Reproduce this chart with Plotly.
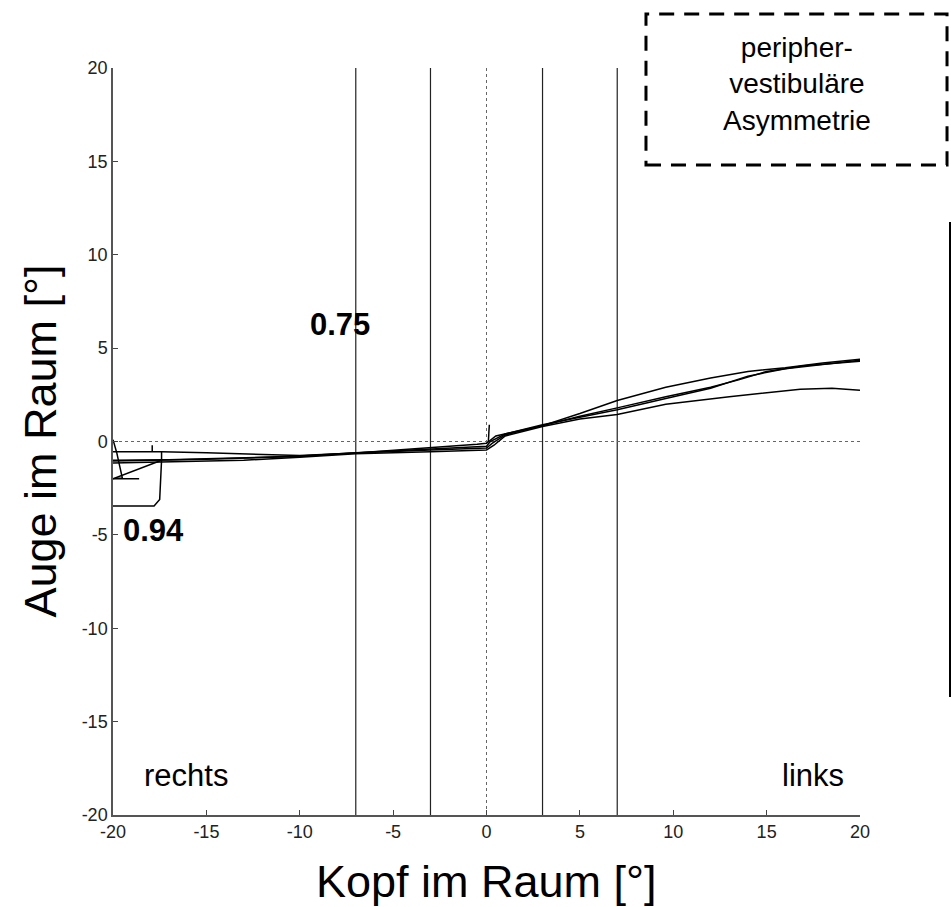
import plotly.graph_objects as go

# ---- data ----
trace1_x = [-20, -17.4, -15, -12, -10, -7, -3, -0.5, 0, 0.5, 3, 5, 7, 9.6, 12, 14, 16, 18, 20]
trace1_y = [-0.55, -0.55, -0.6, -0.7, -0.75, -0.62, -0.35, -0.15, -0.1, 0.3, 0.85, 1.5, 2.2, 2.9, 3.4, 3.75, 3.95, 4.2, 4.4]

trace2_x = [-20, -17, -15, -10, -7, -3, 0, 0.3, 1, 3, 5, 7, 9.6, 12, 13.5, 15, 17, 20]
trace2_y = [-1.05, -1.0, -0.95, -0.8, -0.62, -0.45, -0.35, -0.1, 0.35, 0.85, 1.35, 1.8, 2.4, 2.9, 3.3, 3.75, 4.05, 4.3]

trace3_x = [-20, -17, -13, -10, -7, -3, 0, 0.4, 1, 3, 5, 7, 9.6, 13, 16.8, 18.5, 20]
trace3_y = [-1.15, -1.1, -1.0, -0.85, -0.65, -0.55, -0.45, -0.2, 0.3, 0.8, 1.2, 1.45, 2.0, 2.4, 2.8, 2.85, 2.75]

trace4_x = [-20, -17, -14, -10, -7, -3, 0, 0.2, 1, 3, 5, 7, 9.6, 12, 14, 16, 20]
trace4_y = [-1.0, -0.98, -0.9, -0.78, -0.6, -0.4, -0.25, 0.0, 0.4, 0.9, 1.3, 1.7, 2.3, 2.85, 3.5, 3.9, 4.35]

loop_box_x = [-17.4, -17.4, -17.5, -17.8, -20]
loop_box_y = [-0.55, -1.0, -3.1, -3.45, -3.45]

loop_tri_x = [-20, -19.8, -19.5, -20, -18.6, None, -20, -17.4]
loop_tri_y = [0.1, -0.6, -1.96, -2.0, -2.0, None, -2.0, -1.0]

spike_x = [0.1, 0.15]
spike_y = [0.0, 0.9]

tick_mark_x = [-17.9, -17.9]
tick_mark_y = [-0.55, -0.2]

vlines = [-7, -3, 3, 7]
axis_ticks = [-20, -15, -10, -5, 0, 5, 10, 15, 20]
axis_ticktext = ["-20", "-15", "-10", "-5", "0", "5", "10", "15", "20"]

gain_labels = ["0.75", "0.94"]
gain_x = [-7.84, -17.85]
gain_y = [6.24, -4.74]

side_labels = ["rechts", "links"]
side_x = [-16.1, 17.5]
side_y = [-17.9, -17.9]

x_title = "Kopf im Raum [°]"
y_title = "Auge im Raum [°]"
box_text = "peripher-<br>vestibuläre<br>Asymmetrie"

FONT = "Liberation Sans, Arial"

# ---- figure ----
fig = go.Figure()

line_style = dict(color="black", width=1.5)
for xs, ys in [(trace1_x, trace1_y), (trace2_x, trace2_y), (trace3_x, trace3_y),
               (trace4_x, trace4_y), (loop_box_x, loop_box_y), (loop_tri_x, loop_tri_y),
               (spike_x, spike_y), (tick_mark_x, tick_mark_y)]:
    fig.add_trace(go.Scatter(x=xs, y=ys, mode="lines", line=line_style,
                             showlegend=False, hoverinfo="skip"))

for v in vlines:
    fig.add_shape(type="line", x0=v, x1=v, y0=-20, y1=20, xref="x", yref="y",
                  line=dict(color="#222", width=1.2), layer="below")

fig.add_shape(type="line", x0=0, x1=0, y0=-20, y1=20, xref="x", yref="y",
              line=dict(color="#666", width=1, dash="dot"), layer="below")
fig.add_shape(type="line", x0=-20, x1=20, y0=0, y1=0, xref="x", yref="y",
              line=dict(color="#666", width=1, dash="dot"), layer="below")

# dashed box
fig.add_shape(type="rect", xref="paper", yref="paper",
              x0=0.7135, x1=1.1165, y0=0.870, y1=1.0723,
              line=dict(color="black", width=3, dash="15px,10px"))
fig.add_annotation(xref="paper", yref="paper", x=0.915, y=0.978, text=box_text,
                   xanchor="center", yanchor="middle",
                   showarrow=False, font=dict(family=FONT, size=28, color="black"),
                   align="center")

# right-side vertical bar
fig.add_shape(type="line", xref="paper", yref="paper", x0=1.1205, x1=1.1205,
              y0=0.158, y1=0.794, line=dict(color="black", width=2))

for t, x, y in zip(gain_labels, gain_x, gain_y):
    fig.add_annotation(x=x, y=y, text="<b>" + t + "</b>", showarrow=False,
                       xanchor="center", yanchor="middle",
                       font=dict(family=FONT, size=31, color="black"))
for t, x, y in zip(side_labels, side_x, side_y):
    fig.add_annotation(x=x, y=y, text=t, showarrow=False,
                       xanchor="center", yanchor="middle",
                       font=dict(family=FONT, size=31, color="black"))

# axis titles
fig.add_annotation(xref="paper", yref="paper", x=0.5, y=-0.0884, text=x_title,
                   showarrow=False, xanchor="center", yanchor="middle",
                   font=dict(family=FONT, size=45, color="black"))
fig.add_annotation(xref="paper", yref="paper", x=-0.0977, y=0.5, text=y_title,
                   showarrow=False, xanchor="center", yanchor="middle", textangle=-90,
                   font=dict(family=FONT, size=45, color="black"))

axis_common = dict(range=[-20, 20], tickvals=axis_ticks, ticktext=axis_ticktext,
                   ticks="inside", ticklen=5, automargin=False,
                   tickcolor="#444", showline=True, linecolor="#555", linewidth=1.5,
                   showgrid=False, zeroline=False, mirror=False,
                   tickfont=dict(family=FONT, size=18, color="#222"))

fig.update_xaxes(**axis_common)
fig.update_yaxes(**axis_common)

fig.update_layout(width=951, height=907, plot_bgcolor="white", paper_bgcolor="white",
                  margin=dict(l=113, r=91, t=68, b=92), showlegend=False)

fig.write_html("out.html", config={"displayModeBar": False},
               post_script="document.body.style.margin='0';document.body.style.overflow='hidden';")
